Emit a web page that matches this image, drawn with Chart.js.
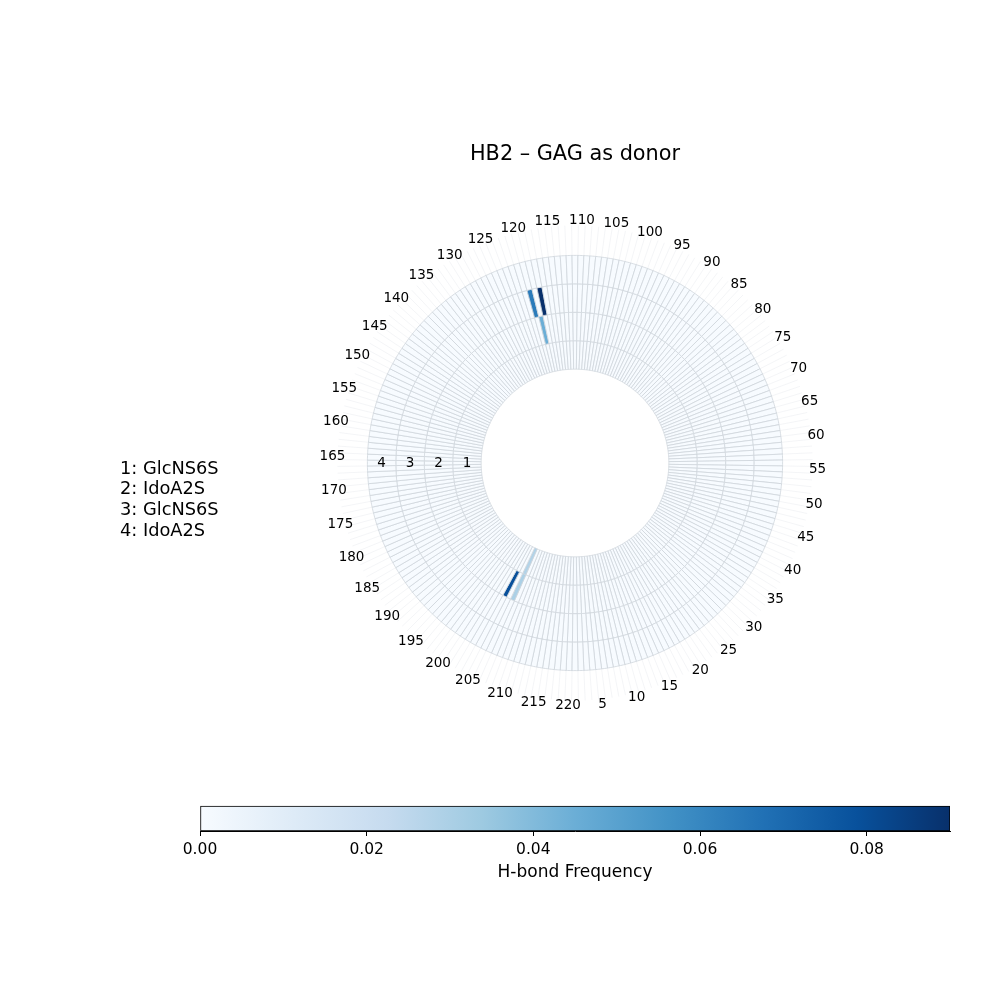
<!DOCTYPE html>
<html>
<head>
<meta charset="utf-8">
<script src="https://cdn.jsdelivr.net/npm/chart.js@4.4.0/dist/chart.umd.min.js"></script>
<style>
body { margin: 0; background: #fff; }
#page { position: relative; width: 1000px; height: 1000px; }
canvas { position: absolute; left: 0; }
</style>
</head>
<body>
<div id="page">
<canvas id="wheel" width="1000" height="1000" style="top:0"></canvas>
<canvas id="cbar" width="1000" height="160" style="top:740px"></canvas>
</div>
<script>
// chart data
var titleText = 'HB2 \u2013 GAG as donor';
var ringNames = ['GlcNS6S', 'IdoA2S', 'GlcNS6S', 'IdoA2S'];
var nResidues = 220;
var tickLabels = [5, 10, 15, 20, 25, 30, 35, 40, 45, 50, 55, 60, 65, 70, 75, 80, 85, 90, 95, 100,
    105, 110, 115, 120, 125, 130, 135, 140, 145, 150, 155, 160, 165, 170, 175, 180, 185, 190, 195, 200,
    205, 210, 215, 220];

// non-zero cells: protein residue, GAG ring, frequency
var hbResidue = [118, 120, 119, 204, 206, 206];
var hbRing = [3, 3, 2, 2, 1, 2];
var hbFreq = [0.090, 0.064, 0.045, 0.079, 0.028, 0.030];

var cbarMin = 0;
var cbarMax = 0.09;
var cbarStep = 0.02;

// matplotlib Blues
var blues = ['#f7fbff', '#deebf7', '#c6dbef', '#9ecae1', '#6baed6', '#4292c6', '#2171b5', '#08519c', '#08306b'];

function hexToRgb(h) {
    return [parseInt(h.substr(1, 2), 16), parseInt(h.substr(3, 2), 16), parseInt(h.substr(5, 2), 16)];
}

function bluesColor(v) {
    let t = (v - cbarMin) / (cbarMax - cbarMin);
    t = Math.max(0, Math.min(1, t));
    let p = t * (blues.length - 1);
    let i = Math.min(Math.floor(p), blues.length - 2);
    let f = p - i;
    let a = hexToRgb(blues[i]), b = hexToRgb(blues[i + 1]);
    let c = a.map(function (x, k) { return Math.round(x + (b[k] - x) * f); });
    return 'rgb(' + c[0] + ',' + c[1] + ',' + c[2] + ')';
}

function getFreq(ring, residue) {
    for (var i = 0; i < hbResidue.length; i++) {
        if (hbRing[i] == ring && hbResidue[i] == residue)
            return hbFreq[i];
    }
    return 0;
}

// dataset 0 is the outer ring, residues reversed so they run anticlockwise
function buildDatasets() {
    let sets = [];
    for (var ring = ringNames.length; ring >= 1; ring--) {
        let data = [];
        let colors = [];
        for (var j = 0; j < nResidues; j++) {
            let residue = nResidues - j;
            data.push(1);
            colors.push(bluesColor(getFreq(ring, residue)));
        }
        sets.push({ label: 'ring ' + ring, data: data, backgroundColor: colors });
    }
    return sets;
}

Chart.defaults.font.family = 'DejaVu Sans';
Chart.defaults.color = '#000';

var textPlugin = {
    id: 'wheelText',
    beforeDatasetsDraw: function (chart) {
        // faint grid lines past the outer ring
        let ctx = chart.ctx;
        let arcs = chart.getDatasetMeta(0).data;
        ctx.save();
        ctx.strokeStyle = 'rgba(176,186,198,0.18)';
        ctx.lineWidth = 0.8;
        arcs.forEach(function (arc) {
            let p = arc.getProps(['x', 'y', 'startAngle', 'outerRadius'], true);
            ctx.beginPath();
            ctx.moveTo(p.x + p.outerRadius * Math.cos(p.startAngle), p.y + p.outerRadius * Math.sin(p.startAngle));
            ctx.lineTo(p.x + (p.outerRadius + 30) * Math.cos(p.startAngle), p.y + (p.outerRadius + 30) * Math.sin(p.startAngle));
            ctx.stroke();
        });
        ctx.restore();
    },
    afterDraw: function (chart) {
        let ctx = chart.ctx;
        let arcs = chart.getDatasetMeta(0).data;
        ctx.save();
        ctx.fillStyle = '#000';
        ctx.textAlign = 'center';
        ctx.textBaseline = 'middle';

        // residue labels around the wheel
        ctx.font = '13.5px "DejaVu Sans"';
        tickLabels.forEach(function (res) {
            let p = arcs[nResidues - res].getProps(['x', 'y', 'startAngle', 'endAngle', 'outerRadius'], true);
            let a = (p.startAngle + p.endAngle) / 2;
            let r = p.outerRadius + 35;
            ctx.fillText(String(res), p.x + r * Math.cos(a), p.y + r * Math.sin(a));
        });

        // ring numbers along the left
        for (var ring = 1; ring <= ringNames.length; ring++) {
            let arc = chart.getDatasetMeta(ringNames.length - ring).data[0];
            let p = arc.getProps(['x', 'y', 'innerRadius', 'outerRadius'], true);
            let r = (p.innerRadius + p.outerRadius) / 2;
            ctx.fillText(String(ring), p.x - r, p.y + 0.5);
        }

        // title
        ctx.font = '20.8px "DejaVu Sans"';
        ctx.fillText(titleText, 575, 155);

        // ring legend
        ctx.font = '17.8px "DejaVu Sans"';
        ctx.textAlign = 'left';
        ringNames.forEach(function (name, i) {
            ctx.fillText((i + 1) + ': ' + name, 120, 469 + i * 20.7);
        });
        ctx.restore();
    }
};

new Chart(document.getElementById('wheel'), {
    type: 'doughnut',
    data: {
        labels: new Array(nResidues).fill(''),
        datasets: buildDatasets()
    },
    options: {
        responsive: false,
        animation: false,
        devicePixelRatio: 1,
        cutout: '45.2%',
        rotation: 180 + 180 / nResidues,
        borderWidth: 0.8,
        borderColor: '#cfd5dc',
        layout: { padding: { left: 367, right: 217, top: 255, bottom: 329 } },
        plugins: {
            legend: { display: false },
            tooltip: { enabled: false }
        }
    },
    plugins: [textPlugin]
});

// colorbar: bar sits in the last of three category rows
new Chart(document.getElementById('cbar'), {
    type: 'bar',
    data: {
        labels: ['', '', ''],
        datasets: [{
            data: [null, null, [cbarMin, cbarMax]],
            backgroundColor: function (c) {
                let area = c.chart.chartArea;
                if (!area) return blues[0];
                let g = c.chart.ctx.createLinearGradient(area.left, 0, area.right, 0);
                blues.forEach(function (col, i) { g.addColorStop(i / (blues.length - 1), col); });
                return g;
            },
            borderColor: '#000',
            borderWidth: 1,
            borderSkipped: false,
            barPercentage: 1,
            categoryPercentage: 1
        }]
    },
    options: {
        indexAxis: 'y',
        responsive: false,
        animation: false,
        devicePixelRatio: 1,
        layout: { padding: { left: 200, right: 50, top: 16, bottom: 17 } },
        plugins: {
            legend: { display: false },
            tooltip: { enabled: false }
        },
        scales: {
            x: {
                type: 'linear',
                min: cbarMin,
                max: cbarMax,
                ticks: {
                    stepSize: cbarStep,
                    includeBounds: false,
                    color: '#000',
                    padding: 6,
                    font: { size: 15.5, lineHeight: 1 },
                    callback: function (v) { return v.toFixed(2); }
                },
                grid: {
                    drawOnChartArea: false,
                    drawTicks: true,
                    tickLength: 5,
                    color: '#000',
                    tickColor: '#000',
                    tickWidth: 1
                },
                border: { display: true, color: '#000', width: 1 },
                title: {
                    display: true,
                    text: 'H-bond Frequency',
                    color: '#000',
                    font: { size: 17, lineHeight: 1 },
                    padding: { top: 1, bottom: 1.5 }
                }
            },
            y: { display: false }
        }
    }
});
</script>
</body>
</html>
